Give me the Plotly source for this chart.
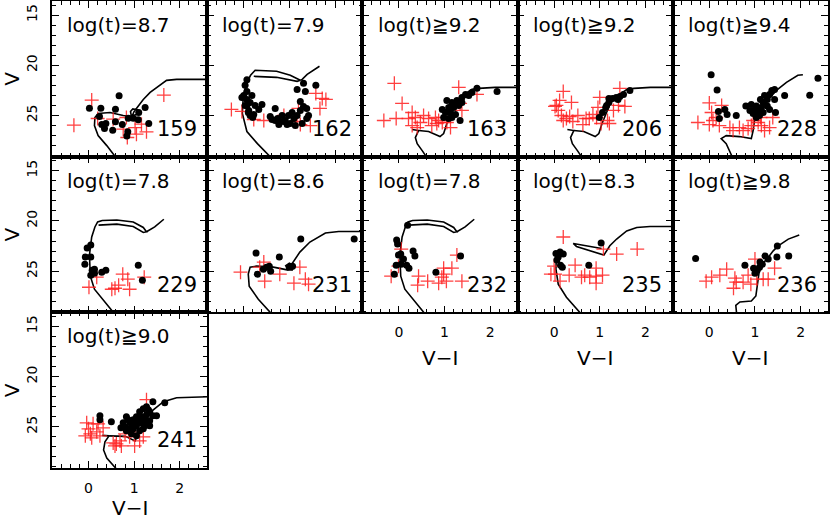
import plotly.graph_objects as go

# ---------------- isochrones (V-I, V) ----------------
iso_78_x = [0.58, 0.33, 0.13, 0.04, 0.02, 0.07, 0.14, 0.20, 0.30, 0.62, 0.98, 1.20, 1.27, 1.20, 0.98, 0.62, 0.22, None, 1.27, 1.45, 1.65]
iso_78_y = [29.3, 27.96, 26.8, 25.5, 23.4, 21.6, 20.6, 20.1, 19.95, 19.9, 20.1, 20.65, 21.08, 21.15, 20.55, 20.32, 20.42, None, 21.08, 20.6, 19.83]

iso_79_x = [0.60, 0.30, 0.07, -0.03, -0.01, 0.06, 0.15, 0.22, 0.25, 0.72, 1.02, 1.24, 1.17, 0.72, 0.22, None, 1.24, 1.28, 1.39, 1.66]
iso_79_y = [29.2, 27.8, 26.6, 24.8, 23.1, 21.8, 21.0, 20.6, 20.5, 20.6, 21.0, 21.5, 21.6, 21.2, 21.1, None, 21.5, 21.4, 20.9, 20.1]

iso_83_x = [0.60, 0.27, 0.09, 0.04, 0.05, 0.13, None, 1.04, 0.42, 0.49, 1.09, 1.22, 1.37, 1.59, 1.81, 2.10, 2.70]
iso_83_y = [29.3, 27.6, 26.3, 24.8, 23.4, 22.8, None, 22.74, 22.24, 22.54, 23.4, 22.47, 21.8, 21.0, 20.65, 20.55, 20.55]

iso_86_x = [0.62, 0.32, 0.12, 0.10, 0.14, 0.28, 0.65, 0.98, 0.92, 1.00, 1.12, 1.06, 0.98, 1.05, 1.23, 1.45, 1.79, 2.08, 2.70]
iso_86_y = [29.3, 27.8, 26.5, 25.3, 24.6, 24.5, 24.6, 24.9, 24.45, 24.2, 24.5, 24.9, 24.8, 24.35, 23.1, 22.1, 21.2, 21.05, 21.05]

iso_87_x = [0.62, 0.40, 0.21, 0.13, 0.14, 0.21, 0.47, 0.76, 0.94, 0.92, 0.97, 1.08, 1.06, 0.96, 1.00, 1.09, 1.20, 1.35, 1.49, 1.71, 1.93, 2.70]
iso_87_y = [29.3, 28.0, 27.0, 26.0, 25.2, 24.8, 24.7, 25.0, 25.1, 24.6, 24.35, 24.45, 24.9, 25.0, 24.6, 24.0, 23.4, 22.7, 22.2, 21.5, 21.4, 21.4]

iso_90_x = [0.30, 0.45, 0.36, 0.33, 0.40, 0.63, None, 0.45, 0.81, 1.02, 1.09, 1.20, 1.42, 1.64, 1.93, 2.70]
iso_90_y = [25.85, 25.9, 26.5, 27.3, 28.1, 29.3, None, 25.9, 25.95, 26.4, 25.6, 24.6, 23.3, 22.5, 22.1, 22.0]

iso_92_x = [0.29, 0.43, 0.36, 0.40, 0.51, 0.63, None, 0.43, 0.65, 0.90, 0.98, 1.05, 1.14, 1.23, 1.37, 1.60, 1.75, 2.11, 2.70]
iso_92_y = [26.4, 26.5, 27.2, 27.8, 28.5, 29.3, None, 26.5, 26.6, 27.1, 26.8, 25.8, 24.8, 23.8, 23.1, 22.4, 22.3, 22.2, 22.2]

iso_94_x = [0.52, 0.37, 0.26, 0.37, 0.66, 0.92, 0.96, 0.99, 1.10, 1.25, 1.47, 1.69, 1.94, 2.05]
iso_94_y = [29.3, 27.8, 27.3, 27.0, 27.1, 27.3, 26.5, 25.5, 24.6, 23.6, 22.5, 21.7, 21.0, 20.95]

iso_98_x = [0.60, 0.58, 0.67, 0.92, 1.02, 1.05, 1.08, 1.11, 1.26, 1.40, 1.51, 1.73, 1.97]
iso_98_y = [29.3, 28.4, 28.07, 27.97, 27.47, 26.47, 25.64, 24.48, 23.81, 22.98, 22.48, 21.81, 21.41]

# ---------------- clusters: black = filled dots, red = crosses ----------------
c159_bx = [0.02, 0.27, 0.24, 0.67, 0.59, 0.87, 0.98, 1.10, 1.24, 1.32, 0.29, 0.35, 0.38, 0.53, 0.59, 0.74, 0.86, 0.84, 1.09]
c159_by = [24.27, 24.27, 25.1, 23.04, 24.37, 25.27, 25.27, 24.7, 24.2, 25.8, 25.9, 26.3, 25.8, 26.46, 25.63, 25.9, 26.63, 27.03, 25.43]
c159_rx = [-0.32, 0.07, 0.20, 0.54, 0.83, 0.76, 0.85, 1.02, 1.05, 1.16, 1.27, 1.65]
c159_ry = [25.96, 23.47, 25.3, 25.37, 25.2, 26.36, 27.19, 26.2, 26.86, 25.86, 26.63, 22.97]

c162_bx = [0.07, 0.03, 0.07, 0.00, 0.07, 0.14, 0.03, 0.11, 0.14, 0.22, 0.33, 0.40, 0.25, 0.18, 0.69, 0.58, 0.69, 0.80, 0.91, 0.98,
           1.06, 1.17, 1.24, 1.31, 1.38, 1.42, 1.24, 1.17, 1.31, 1.35, 1.58, 1.02, 1.13, 1.28, 0.84, 0.95, 0.77, 1.38, 0.07, -0.04,
           0.10, 0.20, 0.62, 0.74, 0.88, 1.10]
c162_by = [21.45, 22.0, 22.6, 23.0, 23.4, 23.7, 24.0, 24.5, 25.0, 24.9, 24.4, 23.9, 24.0, 23.0, 24.3, 25.1, 25.5, 25.6, 25.5, 25.0,
           24.7, 25.0, 24.5, 24.1, 24.3, 25.0, 23.6, 22.4, 21.8, 22.6, 22.0, 25.8, 26.0, 25.8, 25.0, 25.9, 25.9, 25.3, 24.0, 23.2,
           24.7, 25.2, 25.4, 25.3, 25.6, 25.3]
c162_rx = [-0.27, -0.04, 0.44, 0.22, 0.88, 1.20, 1.58, 1.72, 1.80, 1.67, 1.24, 1.46, 1.17]
c162_ry = [24.4, 24.6, 25.5, 25.4, 25.0, 24.3, 22.8, 23.3, 23.4, 24.3, 25.9, 26.0, 25.6]

c163_bx = [1.71, 2.15, 1.60, 1.46, 1.38, 1.27, 1.16, 1.05, 1.09, 1.20, 1.31, 1.02, 1.13, 1.24, 0.98, 1.09, 1.16, 1.34, 1.38, 1.53,
           0.95, 1.20, 1.10]
c163_by = [22.3, 22.6, 22.7, 22.9, 23.2, 23.5, 23.7, 23.5, 24.2, 24.2, 24.0, 24.7, 24.7, 24.9, 25.2, 25.3, 25.2, 25.5, 23.7, 23.0,
           24.4, 23.9, 24.5]
c163_rx = [-0.10, 0.07, -0.06, -0.33, 0.29, 0.21, 0.36, 0.47, 0.54, 0.65, 0.72, 0.80, 0.87, 0.95, 0.83, 0.29, 0.40, 1.31, 1.71,
           1.38, 1.34, 1.13, 1.05]
c163_ry = [21.8, 23.8, 25.3, 25.5, 24.7, 25.3, 25.2, 25.7, 25.0, 25.3, 26.0, 25.2, 25.5, 25.7, 25.8, 26.0, 26.2, 22.2, 22.9,
           24.5, 23.8, 26.2, 25.7]

c206_bx = [1.20, 1.15, 1.36, 1.44, 1.52, 1.66, 1.40, 0.99, 1.06, 1.13, 1.20, 1.28]
c206_by = [23.3, 24.0, 23.2, 23.1, 22.9, 22.5, 23.4, 25.2, 24.7, 24.2, 23.7, 23.3]
c206_rx = [0.20, 0.05, 0.12, 0.38, 0.09, 0.16, 0.27, 0.34, 0.52, 0.63, 0.85, 0.93, 1.00, 0.96, 1.30, 1.41, 1.44, 1.55, 1.17, 1.21,
           1.03, 0.77, 0.41, 0.20, 0.02, 0.70]
c206_ry = [22.6, 24.0, 23.5, 23.7, 24.5, 25.0, 25.3, 25.1, 25.0, 25.9, 24.9, 25.2, 23.2, 24.2, 24.5, 24.0, 22.3, 24.1, 25.5, 25.8,
           25.8, 25.3, 25.6, 25.5, 24.1, 25.3]

c228_bx = [0.04, 0.17, 0.20, 0.34, 0.39, 0.22, 0.59, 0.80, 0.92, 1.00, 1.07, 1.14, 1.18, 1.21, 1.27, 1.32, 1.37, 1.43, 1.10, 1.03,
           0.96, 0.89, 1.43, 1.45, 1.65, 2.20, 2.38, 1.10, 1.18, 1.03, 1.27, 1.32, 1.12]
c228_by = [20.95, 22.47, 24.6, 24.4, 24.9, 25.3, 25.0, 24.05, 23.9, 24.4, 24.7, 24.2, 23.7, 23.0, 23.4, 22.9, 22.5, 22.4, 25.0, 25.2,
           24.8, 24.5, 23.4, 24.7, 23.0, 22.98, 21.3, 24.4, 24.7, 24.05, 24.05, 24.4, 23.4]
c228_rx = [0.00, 0.27, 0.05, 0.15, -0.25, 0.00, 0.22, 0.52, 0.66, 0.74, 0.92, 1.07, 1.14, 1.21, 1.32, 1.39, 0.96, 0.85, 0.45,
           0.08, 1.12]
c228_ry = [23.75, 24.0, 24.7, 25.2, 25.7, 25.9, 26.0, 26.5, 26.2, 26.5, 26.0, 25.7, 26.0, 26.5, 26.2, 25.2, 25.5, 26.3, 26.2,
           25.5, 25.2]

c229_bx = [-0.03, 0.05, -0.07, 0.05, -0.08, 0.08, 0.13, 0.05, 0.13, 0.29, 0.38, 1.09, 1.18]
c229_by = [22.7, 22.4, 23.6, 23.6, 24.3, 24.9, 24.8, 25.4, 25.2, 25.1, 24.9, 24.4, 25.9]
c229_rx = [0.01, 0.18, 0.51, 0.58, 0.66, 0.75, 0.86, 0.90, 1.22]
c229_ry = [26.6, 25.6, 26.8, 26.7, 26.4, 25.3, 25.8, 26.8, 25.6]

c231_bx = [1.25, 2.42, 0.27, 0.78, 0.30, 0.43, 0.50, 0.56, 0.59, 1.07, 1.00]
c231_by = [21.8, 21.8, 23.2, 23.6, 25.3, 24.8, 24.6, 24.5, 25.0, 24.5, 24.6]
c231_rx = [-0.07, 0.44, 0.35, 0.46, 0.79, 1.10, 1.23, 1.35, 1.42]
c231_ry = [25.1, 24.1, 24.6, 26.0, 25.3, 26.2, 24.6, 25.8, 26.3]

c232_bx = [0.19, -0.05, -0.03, 0.04, -0.01, 0.10, -0.06, 0.05, 0.17, 0.22, 0.31, 0.35, -0.10, 0.81, 1.35]
c232_by = [20.42, 21.9, 22.3, 23.3, 23.4, 23.8, 24.4, 24.3, 24.4, 24.7, 23.0, 23.5, 25.3, 25.1, 23.5]
c232_rx = [-0.17, 0.05, -0.01, 0.43, 0.41, 0.63, 0.87, 0.98, 0.98, 0.94, 1.04, 1.16, 1.27, 1.38]
c232_ry = [25.5, 22.8, 24.5, 25.5, 26.4, 26.0, 26.2, 24.7, 25.3, 25.6, 26.0, 24.7, 23.4, 26.0]

c235_bx = [0.04, 0.13, 0.20, 0.09, 0.06, 0.14, 0.18, 1.03, 0.76]
c235_by = [23.24, 23.1, 23.3, 23.6, 23.9, 24.4, 24.6, 22.2, 24.4]
c235_rx = [0.20, 0.00, -0.07, 0.02, 0.13, 0.33, 0.46, 0.60, 0.67, 0.78, 0.92, 0.92, 0.92, 1.06, 1.08, 1.37, 1.82]
c235_ry = [21.6, 24.5, 25.3, 25.3, 26.0, 25.4, 24.4, 25.6, 25.4, 25.6, 24.7, 25.5, 26.2, 25.4, 22.8, 23.3, 22.8]

c236_bx = [-0.30, 0.78, 0.97, 1.11, 1.22, 1.48, 1.49, 1.74, 1.10, 1.00, 1.29, 1.05, 1.16]
c236_by = [23.74, 24.4, 24.7, 24.1, 23.5, 23.6, 22.5, 23.5, 24.6, 25.2, 23.8, 24.9, 24.3]
c236_rx = [-0.07, 0.05, 0.23, 0.38, 0.56, 0.59, 0.53, 0.74, 0.85, 0.91, 1.04, 1.18, 1.29, 1.43, 1.00]
c236_ry = [26.0, 25.6, 25.4, 24.8, 25.7, 26.1, 26.7, 26.1, 25.4, 26.3, 25.8, 25.8, 25.8, 24.7, 23.8]

c241_bx = [0.25, 0.25, 0.50, 0.83, 0.71, 0.80, 0.91, 0.98, 1.05, 1.12, 1.20, 1.27, 1.41, 1.67, 1.49, 0.98, 1.05, 1.12, 1.20, 1.27,
           1.34, 1.12, 1.05, 0.94, 0.83, 1.23, 1.34, 1.41, 0.91, 1.09, 1.16, 1.31, 0.98, 0.87, 0.76, 1.20, 1.34, 1.27]
c241_by = [23.9, 24.3, 24.5, 24.0, 25.1, 25.0, 24.6, 24.3, 24.0, 23.5, 23.2, 23.0, 22.5, 22.6, 23.9, 25.2, 24.9, 24.6, 24.3, 23.8,
           23.5, 25.4, 25.9, 25.7, 25.4, 24.9, 24.4, 23.9, 25.2, 24.4, 24.0, 23.3, 24.8, 24.3, 24.6, 25.2, 24.9, 24.4]
c241_rx = [1.27, -0.04, 0.10, 0.21, 0.32, 0.00, 0.04, 0.18, -0.07, 0.07, 0.25, 0.54, 0.61, 0.69, 0.58, 0.72, 0.90, 1.12, 1.01, 1.20, 0.80, 0.90]
c241_ry = [22.3, 24.6, 24.7, 24.7, 25.1, 25.2, 25.7, 25.5, 25.9, 26.1, 25.9, 26.6, 26.7, 26.4, 26.9, 26.9, 26.0, 26.4, 26.9, 26.0, 25.7, 25.5]

panel_ids = ["159", "162", "163", "206", "228", "229", "231", "232", "235", "236", "241"]
panel_rows = [0, 0, 0, 0, 0, 1, 1, 1, 1, 1, 2]
panel_cols = [0, 1, 2, 3, 4, 0, 1, 2, 3, 4, 0]
age_labels = ["log(t)=8.7", "log(t)=7.9", "log(t)≧9.2", "log(t)≧9.2", "log(t)≧9.4",
              "log(t)=7.8", "log(t)=8.6", "log(t)=7.8", "log(t)=8.3", "log(t)≧9.8", "log(t)≧9.0"]
iso_list = [(iso_87_x, iso_87_y), (iso_79_x, iso_79_y), (iso_92_x, iso_92_y), (iso_92_x, iso_92_y), (iso_94_x, iso_94_y),
            (iso_78_x, iso_78_y), (iso_86_x, iso_86_y), (iso_78_x, iso_78_y), (iso_83_x, iso_83_y), (iso_98_x, iso_98_y),
            (iso_90_x, iso_90_y)]
black_list = [(c159_bx, c159_by), (c162_bx, c162_by), (c163_bx, c163_by), (c206_bx, c206_by), (c228_bx, c228_by),
              (c229_bx, c229_by), (c231_bx, c231_by), (c232_bx, c232_by), (c235_bx, c235_by), (c236_bx, c236_by),
              (c241_bx, c241_by)]
red_list = [(c159_rx, c159_ry), (c162_rx, c162_ry), (c163_rx, c163_ry), (c206_rx, c206_ry), (c228_rx, c228_ry),
            (c229_rx, c229_ry), (c231_rx, c231_ry), (c232_rx, c232_ry), (c235_rx, c235_ry), (c236_rx, c236_ry),
            (c241_rx, c241_ry)]
xlabel_panels = {"232", "235", "236", "241"}
ylabel_panels = {"159", "229", "241"}

X_RANGE = [-0.8, 2.6]
Y_RANGE = [29.1, 13.6]

W, H = 830, 523
ML, MR, MT, MB = 52, 2, 1, 55
PLOT_W, PLOT_H = W - ML - MR, H - MT - MB
FONT = "DejaVu Sans"

fig = go.Figure()
layout = {}
annotations = []

for i, pid in enumerate(panel_ids):
    n = i + 1
    sfx = "" if n == 1 else str(n)
    xa, ya = "x" + sfx, "y" + sfx
    r, c = panel_rows[i], panel_cols[i]
    ix, iy = iso_list[i]
    bx, by = black_list[i]
    rx, ry = red_list[i]
    fig.add_trace(go.Scatter(x=ix, y=iy, mode="lines", line=dict(color="black", width=1.6),
                             xaxis=xa, yaxis=ya, showlegend=False, hoverinfo="skip", connectgaps=False))
    fig.add_trace(go.Scatter(x=rx, y=ry, mode="markers",
                             marker=dict(symbol="cross-thin", size=10, line=dict(color="rgba(255,30,30,0.85)", width=1.3)),
                             xaxis=xa, yaxis=ya, showlegend=False))
    fig.add_trace(go.Scatter(x=bx, y=by, mode="markers",
                             marker=dict(symbol="circle", size=7, color="black"),
                             xaxis=xa, yaxis=ya, showlegend=False))
    common = dict(showline=True, linecolor="black", linewidth=1.5, mirror="allticks", ticks="inside",
                  tickcolor="black", tickwidth=1.2, showgrid=False, zeroline=False, automargin=False,
                  tickfont=dict(family=FONT, size=14, color="black"))
    layout["xaxis" + sfx] = dict(common, domain=[c / 5, (c + 1) / 5], range=X_RANGE, anchor=ya,
                                 ticklen=7, dtick=1, tick0=0,
                                 minor=dict(ticks="inside", ticklen=4, dtick=0.2, tick0=0, tickcolor="black", tickwidth=1),
                                 showticklabels=pid in xlabel_panels, ticklabelstandoff=6)
    layout["yaxis" + sfx] = dict(common, domain=[1 - (r + 1) / 3, 1 - r / 3], range=Y_RANGE, anchor=xa,
                                 ticklen=7, dtick=5, tick0=0, tickangle=-90,
                                 minor=dict(ticks="inside", ticklen=4, dtick=1, tick0=0, tickcolor="black", tickwidth=1),
                                 showticklabels=pid in ylabel_panels, ticklabelstandoff=8)
    annotations.append(dict(text=age_labels[i], xref=xa + " domain", yref=ya + " domain", x=0.085, y=0.845,
                            xanchor="left", yanchor="middle", showarrow=False,
                            font=dict(family=FONT, size=20, color="black")))
    annotations.append(dict(text=pid, xref=xa + " domain", yref=ya + " domain", x=0.945, y=0.177,
                            xanchor="right", yanchor="middle", showarrow=False,
                            font=dict(family=FONT, size=21, color="black")))
    if pid in ylabel_panels:
        annotations.append(dict(text="V", xref="paper", yref=ya + " domain", x=-40 / PLOT_W, y=0.5,
                                xanchor="center", yanchor="middle", textangle=-90, showarrow=False,
                                font=dict(family=FONT, size=20, color="black")))
    if pid in xlabel_panels:
        py = 358 if r == 1 else 508
        annotations.append(dict(text="V−I", xref=xa + " domain", yref="paper", x=0.5,
                                y=(H - MB - py) / PLOT_H,
                                xanchor="center", yanchor="middle", showarrow=False,
                                font=dict(family=FONT, size=20, color="black")))

fig.update_layout(**layout)
fig.update_layout(width=W, height=H, margin=dict(l=ML, r=MR, t=MT, b=MB, autoexpand=False),
                  plot_bgcolor="white", paper_bgcolor="white", annotations=annotations,
                  font=dict(family=FONT, color="black"))
fig.write_html("out.html", config={"displayModeBar": False},
               post_script="document.body.style.margin='0';document.body.style.padding='0';")
